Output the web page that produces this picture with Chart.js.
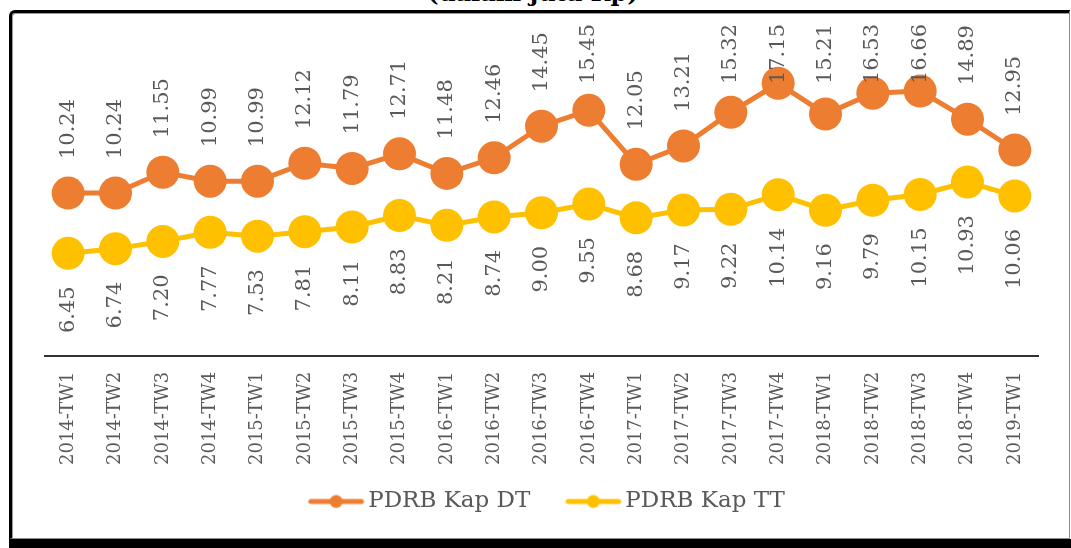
<!DOCTYPE html>
<html>
<head>
<meta charset="utf-8">
<title>PDRB Kap DT vs TT</title>
<script src="https://cdn.jsdelivr.net/npm/chart.js@4.4.1/dist/chart.umd.min.js"></script>
<style>
  html, body {
    margin: 0;
    padding: 0;
    background: #fff;
    width: 1071px;
    height: 548px;
    overflow: hidden;
    position: relative;
  }
  .title {
    position: absolute;
    left: 0;
    width: 1066px;
    top: -19px;
    text-align: center;
    font: bold 24px "DejaVu Serif", serif;
    line-height: 24px;
    color: #000;
  }
  .frame {
    position: absolute;
    left: 9px;
    top: 10px;
    width: 1057px;
    height: 525px;
    border-top: 3px solid #000;
    border-left: 3px solid #000;
    border-right: 1px solid #8c8c8c;
    border-bottom: 1px solid #8c8c8c;
    border-top-left-radius: 6px;
    box-shadow: inset 1px 1px 0 #9a9a9a;
    background: #fff;
  }
  .frame-shadow {
    position: absolute;
    left: 9px;
    top: 539px;
    width: 1062px;
    height: 9px;
    background: #000;
  }
  .chart-box {
    position: absolute;
    left: 12px;
    top: 13px;
    width: 1057px;
    height: 525px;
  }
</style>
</head>
<body>
<div class="title">(dalam juta Rp)</div>
<div class="frame"></div>
<div class="frame-shadow"></div>
<div class="chart-box"><canvas id="pdrbChart"></canvas></div>
<script>
const quarters = [
  "2014-TW1", "2014-TW2", "2014-TW3", "2014-TW4",
  "2015-TW1", "2015-TW2", "2015-TW3", "2015-TW4",
  "2016-TW1", "2016-TW2", "2016-TW3", "2016-TW4",
  "2017-TW1", "2017-TW2", "2017-TW3", "2017-TW4",
  "2018-TW1", "2018-TW2", "2018-TW3", "2018-TW4",
  "2019-TW1",
];

const kapDT = [
  10.24, 10.24, 11.55, 10.99, 10.99, 12.12, 11.79, 12.71, 11.48, 12.46,
  14.45, 15.45, 12.05, 13.21, 15.32, 17.15, 15.21, 16.53, 16.66, 14.89,
  12.95,
];

const kapTT = [
  6.45, 6.74, 7.20, 7.77, 7.53, 7.81, 8.11, 8.83, 8.21, 8.74,
  9.00, 9.55, 8.68, 9.17, 9.22, 10.14, 9.16, 9.79, 10.15, 10.93,
  10.06,
];

const seriesNames = ["PDRB Kap DT", "PDRB Kap TT"];
const seriesColors = ["#ED7D31", "#FFC000"];
const textGray = "#595959";
const serifFont = "'DejaVu Serif', serif";

// line + dot marker for the legend; the blank left part adds to the gap between items
function makeLegendMarker(color) {
  const marker = document.createElement("canvas");
  marker.width = 78;
  marker.height = 16;
  const ctx = marker.getContext("2d");
  ctx.strokeStyle = color;
  ctx.lineWidth = 5;
  ctx.lineCap = "round";
  ctx.beginPath();
  ctx.moveTo(22.5, 8);
  ctx.lineTo(73, 8);
  ctx.stroke();
  ctx.fillStyle = color;
  ctx.beginPath();
  ctx.arc(47.75, 8, 6.5, 0, Math.PI * 2);
  ctx.fill();
  return marker;
}

// rotated value labels: first series above the points, second below
const valueLabelPlugin = {
  id: "valueLabelPlugin",
  afterDatasetsDraw(chart) {
    const { ctx } = chart;
    ctx.save();
    ctx.font = "21px " + serifFont;
    ctx.fillStyle = textGray;
    ctx.textBaseline = "middle";

    chart.data.datasets.forEach((dataset, dsIndex) => {
      const meta = chart.getDatasetMeta(dsIndex);
      meta.data.forEach((point, index) => {
        const text = dataset.data[index].toFixed(2);
        const pos = point.getProps(["x", "y"], true);
        const width = ctx.measureText(text).width;
        ctx.save();
        if (dsIndex === 0) {
          const start = Math.max(pos.y - 34, 11 + width);
          ctx.translate(pos.x, start);
          ctx.rotate(-Math.PI / 2);
          ctx.textAlign = "left";
        } else {
          ctx.translate(pos.x, pos.y + 33);
          ctx.rotate(-Math.PI / 2);
          ctx.textAlign = "right";
        }
        ctx.fillText(text, 0, 0);
        ctx.restore();
      });
    });

    ctx.restore();
  },
};

function createPdrbChart() {
  const canvas = document.getElementById("pdrbChart");
  if (!canvas) {
    return;
  }

  new Chart(canvas, {
    type: "line",
    data: {
      labels: quarters,
      datasets: [kapDT, kapTT].map((values, i) => ({
        label: seriesNames[i],
        data: values,
        borderColor: seriesColors[i],
        backgroundColor: seriesColors[i],
        borderWidth: 5,
        pointRadius: 16.5,
        pointHoverRadius: 16.5,
        pointBorderWidth: 0,
        pointBackgroundColor: seriesColors[i],
        pointStyle: "circle",
        tension: 0,
        clip: false,
      })),
    },
    options: {
      responsive: true,
      maintainAspectRatio: false,
      animation: false,
      layout: {
        padding: { left: 32.5, right: 30.5, top: 25, bottom: 15 },
      },
      scales: {
        x: {
          offset: true,
          grid: { display: false, drawTicks: false },
          border: { display: true, color: "#333", width: 2 },
          ticks: {
            color: textGray,
            font: { family: serifFont, size: 18 },
            maxRotation: 90,
            minRotation: 90,
            padding: 16,
            autoSkip: false,
          },
          afterFit(scale) {
            // tighten the space between the tick labels and the legend
            scale.height -= 16;
          },
        },
        y: {
          display: false,
          min: 0,
          max: 20,
        },
      },
      plugins: {
        legend: {
          position: "bottom",
          labels: {
            color: textGray,
            font: { family: serifFont, size: 23 },
            usePointStyle: true,
            pointStyleWidth: 58.5,
            padding: 25,
            generateLabels(chart) {
              return chart.data.datasets.map((ds, i) => ({
                text: ds.label,
                fontColor: textGray,
                pointStyle: makeLegendMarker(seriesColors[i]),
                datasetIndex: i,
                hidden: false,
                lineWidth: 0,
              }));
            },
          },
        },
        tooltip: { enabled: false },
      },
    },
    plugins: [valueLabelPlugin],
  });
}

window.addEventListener("DOMContentLoaded", () => {
  createPdrbChart();
});
</script>
</body>
</html>
